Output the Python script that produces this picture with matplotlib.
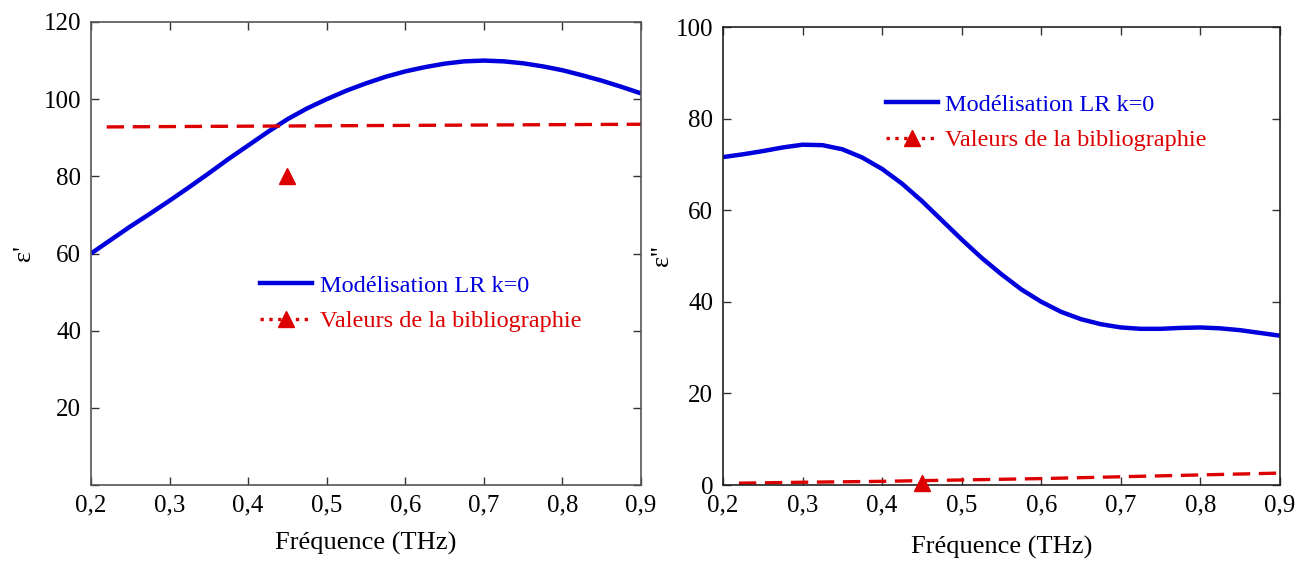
import matplotlib
matplotlib.use("Agg")
import matplotlib.pyplot as plt
from matplotlib.lines import Line2D

plt.rcParams['font.family'] = ['Liberation Serif', 'DejaVu Serif']
plt.rcParams['mathtext.fontset'] = 'stix'

# ---- data ----
freq = [0.2, 0.225, 0.25, 0.275, 0.3, 0.325, 0.35, 0.375, 0.4, 0.425, 0.45, 0.475,
        0.5, 0.525, 0.55, 0.575, 0.6, 0.625, 0.65, 0.675, 0.7, 0.725, 0.75, 0.775,
        0.8, 0.825, 0.85, 0.875, 0.9]
eps1_model = [60, 63.5, 67, 70.3, 73.7, 77.2, 80.8, 84.5, 88, 91.5, 94.8, 97.6,
              100, 102.2, 104.1, 105.8, 107.2, 108.3, 109.2, 109.8, 110, 109.8, 109.3, 108.5,
              107.5, 106.2, 104.8, 103.2, 101.5]
eps2_model = [71.6, 72.2, 72.9, 73.7, 74.3, 74.2, 73.3, 71.5, 69, 65.8, 62, 57.8,
              53.6, 49.6, 46, 42.7, 40, 37.8, 36.2, 35.1, 34.4, 34.1, 34.1, 34.3,
              34.4, 34.2, 33.8, 33.2, 32.6]

freq_dash = [0.22, 0.3, 0.4, 0.5, 0.6, 0.7, 0.8, 0.9]
eps1_dash = [92.8, 92.9, 93.0, 93.1, 93.2, 93.3, 93.4, 93.5]
eps2_dash = [0.4, 0.6, 0.8, 1.1, 1.4, 1.8, 2.2, 2.6]

biblio_freq = [0.45]
eps1_biblio = [80]
eps2_biblio = [0.5]

x_ticks = [0.2, 0.3, 0.4, 0.5, 0.6, 0.7, 0.8, 0.9]
x_labels = ['0,2', '0,3', '0,4', '0,5', '0,6', '0,7', '0,8', '0,9']
y1_ticks = [0, 20, 40, 60, 80, 100, 120]
y1_labels = ['', '20', '40', '60', '80', '100', '120']
y2_ticks = [0, 20, 40, 60, 80, 100]
y2_labels = ['0', '20', '40', '60', '80', '100']

label_model = 'Modélisation LR k=0'
label_biblio = 'Valeurs de la bibliographie'

BLUE = '#0000dd'
RED = '#dd0000'
FS_TICK = 18
FS_LEG = 17.5
FS_LAB = 19

fig = plt.figure(figsize=(13.08, 5.62), dpi=100)
ax1 = fig.add_axes([91/1308, 77/562, 550/1308, 463/562])
ax2 = fig.add_axes([723/1308, 77/562, 557/1308, 458/562])

def style(ax, yt, yl, ylim, spine_col, xpad):
    ax.set_xlim(0.2, 0.9)
    ax.set_ylim(*ylim)
    ax.set_xticks(x_ticks)
    ax.set_xticklabels(x_labels)
    ax.set_yticks(yt)
    ax.set_yticklabels(yl)
    ax.tick_params(direction='in', top=True, right=True, length=6, width=1,
                   labelsize=FS_TICK, pad=7, colors='#333333', labelcolor='black')
    for s in ax.spines.values():
        s.set_color(spine_col)
        s.set_linewidth(1.2)
    ax.set_xlabel('Fréquence (THz)', fontsize=FS_LAB, labelpad=xpad)

for ax, ym, yd, yb, yt, yl, ylim, ylab, leg_pos, sc, xpad, ypad in [
        (ax1, eps1_model, eps1_dash, eps1_biblio, y1_ticks, y1_labels, (0, 120), "ε'",
         (0.29, 0.475), '#555555', 11, 6),
        (ax2, eps2_model, eps2_dash, eps2_biblio, y2_ticks, y2_labels, (0, 100), "ε''",
         (0.275, 0.875), '#222222', 14, 2)]:
    ax.plot(freq, ym, color=BLUE, lw=3.2, solid_capstyle='butt')
    ax.plot(freq_dash, yd, color=RED, lw=2.4, linestyle=(0, (5.2, 2.6)), clip_on=False)
    ax.plot(biblio_freq, yb, linestyle='none', marker='^', color=RED, ms=11, clip_on=False, zorder=5)
    style(ax, yt, yl, ylim, sc, xpad)
    ax.set_ylabel(ylab, fontsize=FS_LAB, labelpad=ypad)
    handles = [Line2D([], [], color=BLUE, lw=3.2),
               Line2D([], [], color=RED, lw=2.4, linestyle=':', marker='^', ms=11)]
    leg = ax.legend(handles, [label_model, label_biblio], loc='upper left',
                    bbox_to_anchor=leg_pos, frameon=False, fontsize=FS_LEG,
                    handlelength=2.15, handletextpad=0.3, labelspacing=0.55,
                    numpoints=1, borderaxespad=0)
    for t, c in zip(leg.get_texts(), [BLUE, RED]):
        t.set_color(c)

fig.savefig('out.png', dpi=100)
